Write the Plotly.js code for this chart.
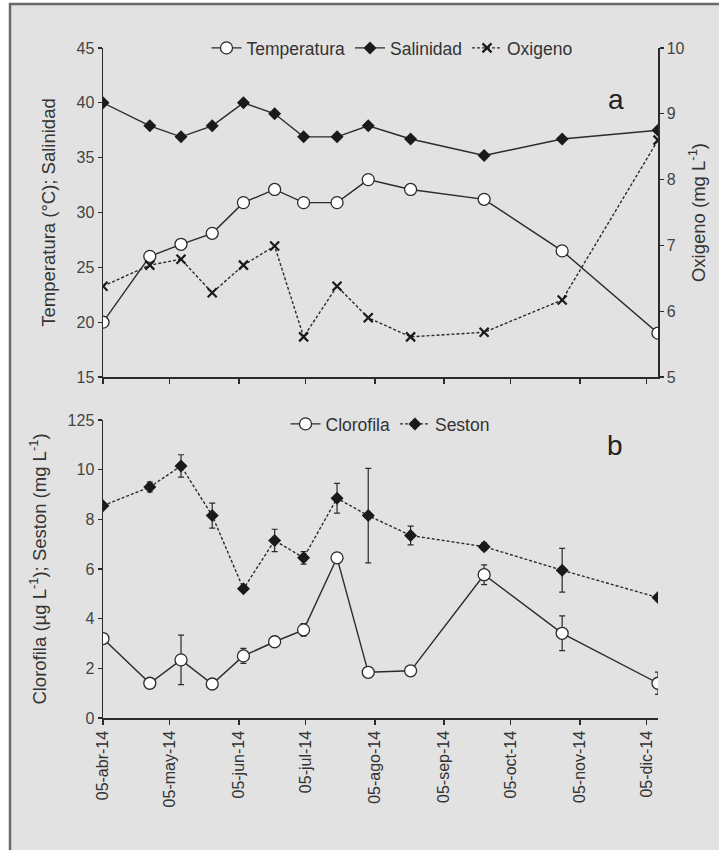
<!DOCTYPE html>
<html>
<head>
<meta charset="utf-8">
<script src="https://cdn.plot.ly/plotly-3.0.1.min.js"></script>
<style>html,body{margin:0;padding:0;background:#fff;}#chart{width:719px;height:850px;}</style>
</head>
<body>
<div id="chart"></div>
<script>
// Sampling dates
var dates = ['2014-04-05','2014-04-26','2014-05-10','2014-05-24','2014-06-07','2014-06-21','2014-07-04','2014-07-19','2014-08-02','2014-08-21','2014-09-23','2014-10-28','2014-12-10'];
// Panel a
var temperatura = [20.0, 26.0, 27.1, 28.1, 30.9, 32.1, 30.9, 30.9, 33.0, 32.1, 31.2, 26.5, 19.0];
var salinidad   = [40.0, 37.9, 36.9, 37.9, 40.0, 39.0, 36.9, 36.9, 37.9, 36.7, 35.2, 36.7, 37.5];
var oxigeno     = [6.38, 6.70, 6.79, 6.28, 6.70, 6.99, 5.61, 6.38, 5.90, 5.61, 5.68, 6.17, 8.60];
// Panel b
var clorofila    = [3.2, 1.4, 2.34, 1.37, 2.5, 3.07, 3.55, 6.45, 1.84, 1.9, 5.77, 3.41, 1.4];
var clorofilaErr = [0.15, 0.1, 1.0, 0.1, 0.3, 0.12, 0.25, 0.15, 0.15, 0.15, 0.4, 0.7, 0.45];
var seston       = [8.55, 9.3, 10.15, 8.15, 5.2, 7.15, 6.45, 8.85, 8.15, 7.35, 6.9, 5.95, 4.85];
var sestonErr    = [0.1, 0.2, 0.45, 0.5, 0.1, 0.45, 0.25, 0.6, 1.9, 0.38, 0.15, 0.88, 0.12];
// Tick labels
var tickDates  = ['2014-04-05','2014-05-05','2014-06-05','2014-07-05','2014-08-05','2014-09-05','2014-10-05','2014-11-05','2014-12-05'];
var tickLabels = ['05-abr-14','05-may-14','05-jun-14','05-jul-14','05-ago-14','05-sep-14','05-oct-14','05-nov-14','05-dic-14'];
var leftTicksA = [15, 20, 25, 30, 35, 40, 45];
var rightTicksA = [5, 6, 7, 8, 9, 10];
var ticksB = [0, 2, 4, 6, 8, 10, 12];
var ticksBLabels = ['0', '2', '4', '6', '8', '10', '125'];

var W = 719, H = 850;
function px(x){ return x / W; }
function py(y){ return 1 - y / H; }

var ink = '#2b2b2b';
var font = 'Liberation Sans, Arial, sans-serif';
var tickFont = {family: font, size: 16, color: '#444'};
var titleFont = {family: font, size: 18.5, color: '#333'};
var legendFont = {family: font, size: 17.5, color: '#333'};

var traces = [
  {x: dates, y: temperatura, name: 'Temperatura', xaxis: 'x', yaxis: 'y', mode: 'lines+markers', legend: 'legend',
   line: {color: ink, width: 1.4}, marker: {symbol: 'circle', size: 12, color: '#ffffff', line: {color: ink, width: 1.3}}},
  {x: dates, y: salinidad, name: 'Salinidad', xaxis: 'x', yaxis: 'y', mode: 'lines+markers', legend: 'legend',
   line: {color: ink, width: 1.4}, marker: {symbol: 'diamond', size: 10, color: '#1a1a1a'}},
  {x: dates, y: oxigeno, name: 'Oxigeno', xaxis: 'x', yaxis: 'y2', mode: 'lines+markers', legend: 'legend',
   line: {color: ink, width: 1.4, dash: '3px,2px'}, marker: {symbol: 'x-thin', size: 9, line: {color: '#1a1a1a', width: 2.2}}},
  {x: dates, y: clorofila, name: 'Clorofila', xaxis: 'x2', yaxis: 'y3', mode: 'lines+markers', legend: 'legend2',
   error_y: {type: 'data', array: clorofilaErr, visible: true, color: ink, thickness: 1.2, width: 3},
   line: {color: ink, width: 1.4}, marker: {symbol: 'circle', size: 12, color: '#ffffff', line: {color: ink, width: 1.3}}},
  {x: dates, y: seston, name: 'Seston', xaxis: 'x2', yaxis: 'y3', mode: 'lines+markers', legend: 'legend2',
   error_y: {type: 'data', array: sestonErr, visible: true, color: ink, thickness: 1.2, width: 3},
   line: {color: ink, width: 1.4, dash: '3px,2px'}, marker: {symbol: 'diamond', size: 10, color: '#1a1a1a'}}
];

var xRange = ['2014-04-05', '2014-12-10'];
var xCommon = {
  type: 'date', range: xRange, showgrid: false, zeroline: false,
  showline: true, linecolor: ink, linewidth: 1.5,
  ticks: 'outside', ticklen: 5, tickcolor: ink, tickwidth: 1.2,
  tickvals: tickDates, ticktext: tickLabels,
  tickfont: {family: font, size: 16, color: '#333'}
};
var yCommon = {
  showgrid: false, zeroline: false, showline: true, linecolor: ink, linewidth: 1.5,
  ticks: 'outside', ticklen: 4, tickcolor: ink, tickwidth: 1.2, tickfont: tickFont
};

var layout = {
  width: W, height: H,
  margin: {l: 0, r: 0, t: 0, b: 0},
  paper_bgcolor: '#ffffff', plot_bgcolor: 'rgba(0,0,0,0)',
  font: {family: font, color: '#333'},
  showlegend: true,
  xaxis: Object.assign({}, xCommon, {domain: [px(103), px(658)], anchor: 'y', showticklabels: false}),
  yaxis: Object.assign({}, yCommon, {domain: [py(377), py(48)], range: [15, 45], tickvals: leftTicksA, anchor: 'x',
          title: {text: 'Temperatura (°C); Salinidad', font: titleFont, standoff: 16}}),
  yaxis2: Object.assign({}, yCommon, {domain: [py(377), py(48)], range: [5, 10], tickvals: rightTicksA,
           overlaying: 'y', side: 'right', anchor: 'x',
           title: {text: 'Oxigeno (mg L<sup>-1</sup>)', font: titleFont, standoff: 8}}),
  xaxis2: Object.assign({}, xCommon, {domain: [px(103), px(658)], anchor: 'y3', tickangle: -90}),
  yaxis3: Object.assign({}, yCommon, {domain: [py(718), py(420)], range: [0, 12], tickvals: ticksB, ticktext: ticksBLabels, anchor: 'x2',
           title: {text: 'Clorofila (µg L<sup>-1</sup>); Seston (mg L<sup>-1</sup>)', font: titleFont, standoff: 16}}),
  legend: {orientation: 'h', x: px(392), xanchor: 'center', y: py(48), yanchor: 'middle',
           bgcolor: 'rgba(0,0,0,0)', font: legendFont, itemwidth: 30},
  legend2: {orientation: 'h', x: px(390), xanchor: 'center', y: py(424), yanchor: 'middle',
            bgcolor: 'rgba(0,0,0,0)', font: legendFont, itemwidth: 30},
  shapes: [
    {type: 'rect', xref: 'paper', yref: 'paper', x0: px(10), x1: 1.2, y0: -0.2, y1: py(4),
     fillcolor: '#e2e2e2', line: {color: '#6a6a6a', width: 2.5}, layer: 'below'}
  ],
  annotations: [
    {text: 'a', xref: 'paper', yref: 'paper', x: px(626), y: py(82), showarrow: false,
     font: {family: font, size: 28, color: '#222'}},
    {text: 'b', xref: 'paper', yref: 'paper', x: px(625), y: py(446), showarrow: false,
     font: {family: font, size: 28, color: '#222'}}
  ]
};

Plotly.newPlot('chart', traces, layout, {displayModeBar: false, staticPlot: true});
</script>
</body>
</html>
